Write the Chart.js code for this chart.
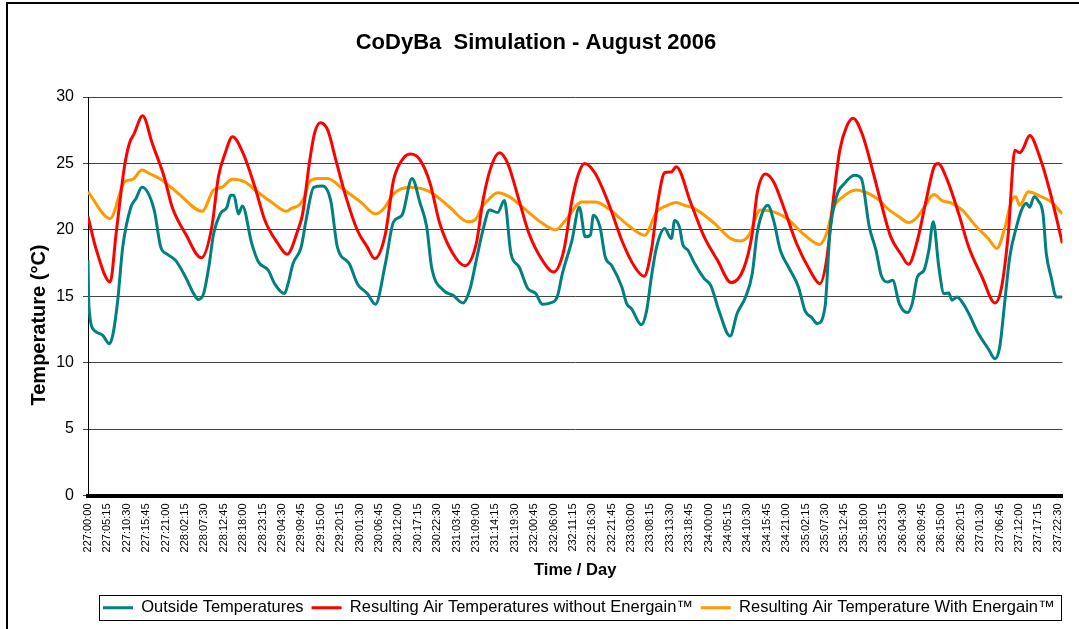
<!DOCTYPE html>
<html>
<head>
<meta charset="utf-8">
<title>CoDyBa Simulation - August 2006</title>
<script src="https://cdn.jsdelivr.net/npm/chart.js@4.4.0/dist/chart.umd.min.js"></script>
<style>
  body { margin: 0; background: #fff; }
</style>
</head>
<body>
<canvas id="grafico" width="1079" height="629"></canvas>
<script>
// ===== DATA =====
// x values are hours counted from 227:00:00
const tickLabels = [
  '227:00:00', '227:05:15', '227:10:30', '227:15:45', '227:21:00', '228:02:15', '228:07:30',
  '228:12:45', '228:18:00', '228:23:15', '229:04:30', '229:09:45', '229:15:00', '229:20:15',
  '230:01:30', '230:06:45', '230:12:00', '230:17:15', '230:22:30', '231:03:45', '231:09:00',
  '231:14:15', '231:19:30', '232:00:45', '232:06:00', '232:11:15', '232:16:30', '232:21:45',
  '233:03:00', '233:08:15', '233:13:30', '233:18:45', '234:00:00', '234:05:15', '234:10:30',
  '234:15:45', '234:21:00', '235:02:15', '235:07:30', '235:12:45', '235:18:00', '235:23:15',
  '236:04:30', '236:09:45', '236:15:00', '236:20:15', '237:01:30', '237:06:45', '237:12:00',
  '237:17:15', '237:22:30'
];

const outsideHours = [
  0, 0.25, 1.8, 4, 5.8, 6.7, 8.05, 9.4, 11.6, 13, 14.6, 17.9, 19.7, 21.5, 23.7, 26.4, 28.6,
  29.8, 31.3, 32.7, 34, 35.8, 37.6, 38.6, 39.5, 40.7, 41.8, 44.3, 46.1, 48.8, 50.5, 53.2,
  54.2, 55.5, 57.7, 59, 61.1, 63.5, 65.7, 67.5, 70.7, 72.9, 75.6, 77.8, 80.5, 82.7, 85,
  87.7, 89.9, 91.7, 93, 96.2, 98.8, 101.5, 103.3, 105.1, 106.9, 108.7, 110.9, 112.7, 114.5,
  116.7, 119, 121.2, 123, 125.2, 127, 128.4, 131, 133, 134.6, 136, 136.8, 138.6, 140, 141.8,
  144.5, 145.8, 147.1, 149.8, 151.2, 152.5, 153.9, 156.1, 157.9, 158.8, 160.1, 161, 162.4,
  164.2, 166.8, 168.6, 170.8, 173.8, 175.7, 178, 179.8, 181.1, 182.4, 184, 185.6, 187.4,
  189.6, 192.3, 194.1, 195.9, 197.4, 199.5, 200.8, 202.6, 204.8, 207.5, 209.3, 211.5, 213.3,
  214.7, 216.5, 217.8, 219.6, 221.8, 223.1, 224.5, 226.3, 227.6, 228.8, 230.3, 231.7, 233,
  233.9, 235.2, 236.6, 238.4, 241, 243.7, 245.5, 246.8, 248.2, 249.5, 251.3, 252.7, 254,
  254.9, 256.1, 257.2, 258.5, 259.4, 260.7, 262.1, 263.75
];
const outsideTemps = [
  17.7, 14.2, 12.4, 12.06, 11.43, 12.06, 14.7, 18.7, 21.7, 22.36, 23.2, 21.5, 18.7, 18.16, 17.7, 16.45, 15.2,
  14.75, 15.2, 17.2, 19.7, 21.2, 21.7, 22.6, 22.6, 21.2, 21.8, 19.0, 17.6, 16.96, 15.95, 15.2,
  16.0, 17.46, 18.7, 20.7, 23.2, 23.3, 22.2, 18.7, 17.46, 15.95, 15.2, 14.4, 17.46, 20.6, 21.1,
  23.87, 22.0, 20.2, 17.2, 15.45, 15.07, 14.5, 15.45, 17.7, 19.97, 21.5, 21.3, 22.2, 18.2,
  17.2, 15.6, 15.2, 14.4, 14.5, 14.95, 16.7, 19.2, 21.7, 19.47, 19.6, 21.1, 20.2, 17.96, 17.3,
  15.7, 14.45, 14.07, 12.86, 13.9, 16.45, 18.7, 20.1, 19.34, 20.7, 20.2, 18.9, 18.46,
  17.46, 16.33, 15.8, 13.9, 12.0, 13.7, 14.95, 16.7, 19.7, 21.2, 21.85, 20.7, 18.46,
  17.2, 15.7, 13.9, 13.4, 12.94, 14.2, 19.7, 22.5, 23.5, 24.1, 23.87, 20.2, 18.46,
  16.58, 16.07, 16.2, 14.45, 13.77, 14.45, 16.45, 16.96, 18.46, 20.6, 17.2, 15.2, 15.25,
  14.7, 14.95, 14.57, 13.7, 12.19, 11.05, 10.3, 11.2, 14.7, 17.96, 20.2, 21.5, 22.0,
  21.7, 22.5, 22.2, 21.2, 18.2, 16.45, 14.95, 14.95
];

const semEnergainHours = [
  0, 2.25, 6, 7.6, 9.85, 11.2, 12.5, 14.8, 17.4, 20.6, 22.8, 26.4, 30.7, 33.5, 35.3, 37.1,
  39.1, 42, 45.2, 47.9, 51.4, 53.9, 56.8, 58.1, 59.9, 61.3, 62.9, 64.9, 67.1, 69.8, 72.9,
  75.6, 77.6, 80.5, 82.7, 85.4, 87.4, 89.9, 92.6, 95.2, 98.8, 102, 105.1, 106.9, 109.1,
  111.4, 113.6, 116.7, 119.4, 123, 126, 128.8, 131, 132.8, 134.4, 137.3, 140.9, 144.5, 148,
  150.5, 152.5, 154.3, 156.1, 157.9, 159.2, 163.2, 166.8, 170.4, 174.1, 177.5, 179.8, 181.1,
  183.4, 185.6, 188.3, 191.8, 195.4, 198.1, 199.9, 201.7, 203.5, 205.3, 207.1, 209.7, 212.6,
  214.7, 217.3, 220, 222.1, 224.5, 226.7, 229, 230.1, 232.6, 235.7, 238.4, 242, 245.5,
  247.3, 249.1, 250.9, 252.2, 253.1, 254.9, 257.6, 260.3, 262.5, 263.75
];
const semEnergainTemps = [
  21.0, 18.5, 16.07, 19.7, 24.74, 26.5, 27.25, 28.58, 26.5, 24.0, 21.7, 19.7, 17.9, 20.2, 24.0, 25.75,
  27.0, 25.75, 23.2, 20.7, 18.97, 18.16, 19.97, 21.2, 25.0, 27.25, 28.06, 27.5, 25.25, 22.5, 19.97,
  18.7, 17.84, 19.7, 23.74, 25.4, 25.7, 25.25, 23.5, 20.5, 18.2, 17.3, 18.97, 22.2, 24.74,
  25.8, 25.0, 22.2, 19.7, 17.7, 16.83, 18.46, 22.2, 24.24, 25.0, 24.24, 22.0, 19.2, 17.2,
  16.5, 18.46, 22.2, 24.3, 24.36, 24.74, 22.0, 19.47, 17.7, 16.03, 17.1, 19.7, 22.7,
  24.2, 23.6, 21.7, 18.97, 16.96, 15.95, 17.7, 22.2, 26.0, 27.75, 28.4, 27.1, 24.24,
  22.0, 19.47, 18.2, 17.4, 19.2, 22.0, 24.74, 25.0, 23.74, 21.2, 18.7, 16.45, 14.5,
  15.7, 19.7, 26.0, 25.8, 26.1, 27.1, 25.5, 22.98, 20.47, 18.97
];

const comEnergainHours = [
  0, 6, 9.85, 12.1, 14.6, 16.6, 20.1, 24.6, 30.9, 34, 36.2, 39.1, 42.5, 45.2, 49.6, 53.7,
  55, 57.3, 58.6, 59.9, 62.2, 64.9, 68.9, 73.8, 77.8, 80.1, 82.7, 87.2, 92.6, 97.9, 102.9,
  105.1, 106.4, 108.7, 110.9, 114, 118.5, 123, 126.6, 129.2, 133.7, 137.3, 140.9, 146.2,
  150.7, 153.9, 156.5, 159.2, 161.4, 164.2, 169.5, 174, 176.7, 178.9, 182, 185.6, 189.2,
  193.6, 198.1, 199.9, 201.7, 204.4, 207.9, 211.5, 214.7, 216, 219.6, 222.1, 224.5, 226.3,
  229, 231.2, 233.9, 236.6, 240.1, 243.7, 246, 248.2, 250, 251.1, 252.2, 254.5, 258, 260.7,
  263.75
];
const comEnergainTemps = [
  22.86, 20.85, 23.6, 23.8, 24.5, 24.24, 23.74, 22.7, 21.4, 23.0, 23.2, 23.8, 23.6, 23.0, 22.1, 21.4,
  21.6, 21.9, 22.5, 23.6, 23.87, 23.87, 23.1, 22.1, 21.2, 21.6, 22.7, 23.2, 22.86, 21.7, 20.6,
  20.85, 21.6, 22.36, 22.8, 22.5, 21.5, 20.5, 20.0, 20.7, 22.1, 22.1, 21.6, 20.35,
  19.6, 21.35, 21.8, 22.06, 21.85, 21.6, 20.5, 19.34, 19.16, 19.6, 21.5, 21.35, 20.85,
  19.7, 18.9, 19.7, 21.6, 22.5, 23.0, 22.7, 22.1, 21.7, 20.97, 20.55, 20.97, 21.7,
  22.66, 22.2, 22.0, 21.5, 20.35, 19.34, 18.6, 20.2, 22.2, 22.5, 21.85, 22.86, 22.5, 22.1,
  21.2
];

// ===== HELPERS =====
function rotuloParaHoras(rotulo) {
  const [dia, h, m] = rotulo.split(':').map(Number);
  return (dia - 227) * 24 + h + m / 60;
}

function pares(horas, temps) {
  return horas.map((h, i) => ({ x: h, y: temps[i] }));
}

const tickHours = tickLabels.map(rotuloParaHoras);

// ===== MOLDURA / LEGENDA / TITULO Y =====
const moldura = {
  id: 'moldura',
  afterLayout(chart) {
    const lg = chart.legend;
    const pad = lg.options.labels.padding;
    const inicio = (lg.left + pad + lg.right - lg.lineWidths[0]) / 2;
    const desloc = 103 - inicio;
    lg.left += desloc;
    lg.right += desloc;
  },
  afterDraw(chart) {
    const ctx = chart.ctx;
    const lg = chart.legend;
    const pad = lg.options.labels.padding;
    ctx.save();

    // borda externa
    ctx.strokeStyle = '#000';
    ctx.lineWidth = 2;
    ctx.strokeRect(7, 3, 1100, 700);

    // caixa da legenda
    const x0 = (lg.left + pad + lg.right - lg.lineWidths[0]) / 2;
    const w = lg.lineWidths[0] - pad;
    const cy = lg.top + pad + 16.5 / 2;
    ctx.lineWidth = 1;
    ctx.strokeRect(Math.round(x0 - 4) + 0.5, Math.round(cy - 12.5) + 0.5, Math.round(w + 10), 25);

    // titulo do eixo Y
    ctx.translate(39, 325);
    ctx.rotate(-Math.PI / 2);
    ctx.fillStyle = '#000';
    ctx.font = 'bold 20px "Liberation Sans", Arial, sans-serif';
    ctx.textAlign = 'center';
    ctx.textBaseline = 'middle';
    ctx.fillText('Temperature (\u00B0C)', 0, 0);
    ctx.restore();
  }
};

// ===== GRAFICO =====
Chart.defaults.font.family = '"Liberation Sans", Arial, sans-serif';
Chart.defaults.color = '#000';

new Chart(document.getElementById('grafico'), {
  type: 'line',
  data: {
    datasets: [
      {
        label: 'Outside Temperatures',
        data: pares(outsideHours, outsideTemps),
        borderColor: '#008080',
        backgroundColor: '#008080',
        borderWidth: 3
      },
      {
        label: 'Resulting Air Temperatures without Energain\u2122',
        data: pares(semEnergainHours, semEnergainTemps),
        borderColor: '#ff0000',
        backgroundColor: '#ff0000',
        borderWidth: 3
      },
      {
        label: 'Resulting Air Temperature With Energain\u2122',
        data: pares(comEnergainHours, comEnergainTemps),
        borderColor: '#ff9900',
        backgroundColor: '#ff9900',
        borderWidth: 3
      }
    ]
  },
  options: {
    responsive: false,
    animation: false,
    events: [],
    layout: { padding: { left: 0, right: 7, top: 0, bottom: 3 } },
    elements: {
      point: { radius: 0 },
      line: { cubicInterpolationMode: 'monotone' }
    },
    scales: {
      x: {
        type: 'linear',
        min: 0,
        max: 263.75,
        afterBuildTicks: s => { s.ticks = tickHours.map(v => ({ value: v })); },
        afterFit: s => { s.height = 96; },
        grid: { display: false, drawTicks: false },
        border: { display: true, color: '#000', width: 4 },
        ticks: {
          autoSkip: false,
          minRotation: 90,
          maxRotation: 90,
          padding: 8,
          font: { size: 11 },
          callback: (v, i) => tickLabels[i]
        },
        title: {
          display: true,
          text: 'Time / Day',
          font: { size: 16.5, weight: 'bold' },
          padding: { top: 0, bottom: 11 }
        }
      },
      y: {
        min: 0,
        max: 30,
        afterFit: s => { s.width = 88; },
        grid: { color: '#444', lineWidth: 1, tickLength: 5 },
        border: { color: '#000', width: 1 },
        ticks: { stepSize: 5, padding: 9, font: { size: 16 } }
      }
    },
    plugins: {
      title: {
        display: true,
        text: 'CoDyBa  Simulation - August 2006',
        font: { size: 22, weight: 'bold' },
        padding: { top: 30, bottom: 40.6 }
      },
      legend: {
        position: 'bottom',
        labels: {
          usePointStyle: true,
          pointStyle: 'line',
          pointStyleWidth: 30,
          padding: 8,
          font: { size: 16.5 }
        }
      },
      tooltip: { enabled: false }
    }
  },
  plugins: [moldura]
});
</script>
</body>
</html>
